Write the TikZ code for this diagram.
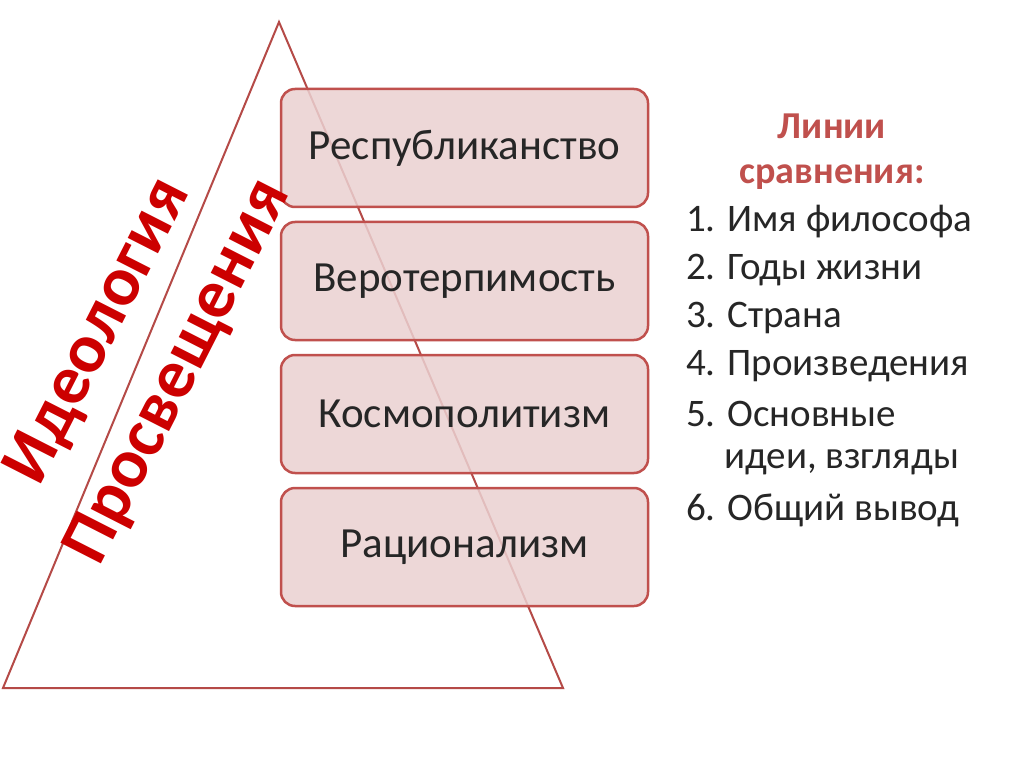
\documentclass[tikz,border=0pt]{standalone}
\usepackage{fontspec}
\setmainfont{Carlito}
\begin{document}
\begin{tikzpicture}[x=1pt,y=-1pt,
  box/.style={draw=rbor,line width=2.5pt,fill=rfill,fill opacity=0.85,text opacity=1,rounded corners=14pt,minimum width=367pt,minimum height=118pt,text=black!85,font=\fontsize{43}{48}\selectfont},
  item/.style={anchor=west,text=black!85,font=\fontsize{39}{44}\selectfont,inner sep=0pt}]
\definecolor{rbor}{HTML}{C0504D}
\definecolor{rfill}{HTML}{EAD1D1}
\definecolor{tri}{HTML}{B54A47}
\useasboundingbox (0,0) rectangle (1024,767);
\fill[white] (0,0) rectangle (1024,767);
\draw[tri,line width=2pt] (279,22) -- (563,688) -- (3,688) -- cycle;
\node[box] (b1) at (464.5,148) {Республиканство};
\node[box] (b2) at (464.5,281) {Веротерпимость};
\node[box] (b3) at (464.5,414) {Космополитизм};
\node[box] (b4) at (464.5,547) {Рационализм};
\node[rotate=63,align=center,text=red!80!black,font=\bfseries\fontsize{70}{90}\selectfont] (t) at (140,352) {Идеология\\Просвещения};
\node[align=center,text=rbor,font=\bfseries\fontsize{38}{45}\selectfont] (h) at (832,152) {Линии\\сравнения:};
\node[item] (i1) at (686,222) {1. Имя философа};
\node[item] (i2) at (686,270) {2. Годы жизни};
\node[item] (i3) at (686,318) {3. Страна};
\node[item] (i4) at (686,366) {4. Произведения};
\node[item] (i5) at (686,414) {5. Основные};
\node[item] (i5b) at (724,462) {идеи, взгляды};
\node[item] (i6) at (686,510) {6. Общий вывод};
\end{tikzpicture}
\end{document}
